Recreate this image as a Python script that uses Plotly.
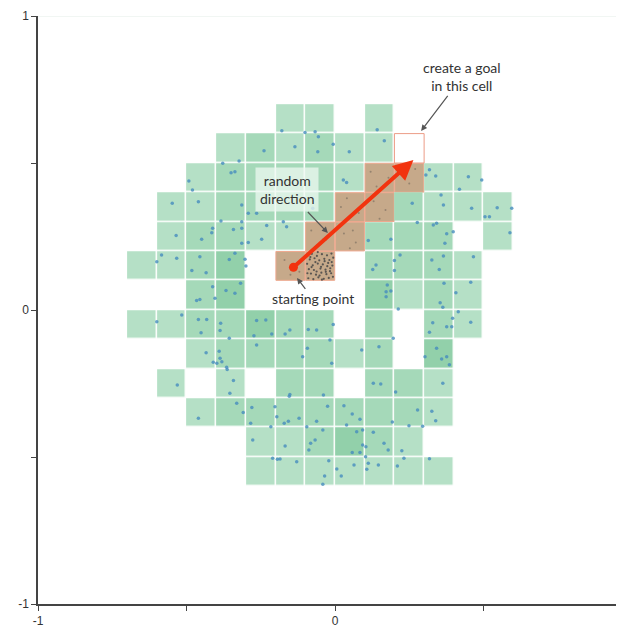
import numpy as np
import plotly.graph_objects as go

# ---------------- data ----------------
CELL = 0.1
col_left0 = -0.7   # left edge of column 0
row_top0 = 0.7     # top edge of row 0

# archive cell shade levels (0 = no cell, 1 light, 2 mid, 3 dark); rows top->bottom, cols left->right
shade_rows = [
    [0,0,0,0,0,1,1,0,1,0,0,0,0],
    [0,0,0,1,2,1,2,1,1,0,0,0,0],
    [0,0,1,2,2,2,2,1,0,0,1,1,0],
    [0,1,1,2,2,2,2,0,0,2,1,1,1],
    [0,1,2,2,1,1,0,0,2,2,2,0,1],
    [1,1,2,3,0,0,0,0,2,2,2,1,0],
    [0,0,2,3,0,0,0,0,3,1,2,1,0],
    [1,1,2,2,3,2,2,0,2,0,2,1,0],
    [0,0,1,2,2,2,2,1,2,0,3,0,0],
    [0,1,0,1,0,2,2,0,2,2,1,0,0],
    [0,0,1,2,2,2,2,2,2,2,1,0,0],
    [0,0,0,0,1,1,2,3,2,1,0,0,0],
    [0,0,0,0,1,1,1,1,1,1,1,0,0],
]

# cells crossed by the random direction (left edge x, bottom edge y)
path_cell_x = [-0.2, -0.1, -0.1, 0.0, 0.0, 0.1, 0.1, 0.2]
path_cell_y = [0.1, 0.1, 0.2, 0.2, 0.3, 0.3, 0.4, 0.4]
goal_cell_x = 0.2
goal_cell_y = 0.5

# archived states (blue dots)
pts_x = [-0.179,-0.101,-0.135,-0.239,-0.378,-0.323,-0.350,-0.337,-0.492,-0.480,-0.548,-0.460,-0.314,-0.292,-0.264,
         -0.384,-0.314,-0.230,-0.174,-0.163,-0.075,-0.412,-0.342,-0.314,-0.067,-0.056,0.142,-0.006,-0.058,0.048,
         0.166,0.028,0.039,0.318,0.306,0.339,0.449,0.419,0.494,0.357,0.365,0.260,0.460,0.546,0.505,0.520,0.595,
         0.277,0.331,0.342,-0.535,-0.449,-0.415,-0.314,-0.292,-0.247,-0.584,-0.600,-0.533,-0.455,-0.482,-0.434,
         -0.337,-0.356,-0.303,-0.300,-0.412,-0.367,-0.337,-0.318,-0.466,-0.455,-0.404,-0.600,-0.516,-0.460,-0.432,
         -0.451,-0.385,-0.387,-0.356,-0.264,-0.233,-0.273,-0.213,-0.168,-0.152,-0.090,-0.062,-0.264,-0.434,-0.390,
         -0.387,-0.398,-0.410,-0.381,-0.365,-0.109,-0.093,0.188,0.112,0.376,0.398,0.370,0.589,0.138,0.127,0.219,
         0.200,0.200,0.326,0.365,0.351,0.466,0.367,0.457,0.176,0.172,0.188,0.172,0.213,0.407,0.354,0.363,0.415,
         -0.017,-0.006,0.196,0.329,0.318,0.376,0.393,0.396,0.457,0.090,0.148,0.303,0.342,0.359,0.376,-0.011,
         -0.363,-0.531,-0.342,-0.354,-0.152,-0.154,-0.039,-0.460,-0.331,-0.309,-0.280,-0.284,-0.216,-0.202,-0.196,
         -0.171,-0.157,-0.121,-0.095,-0.062,-0.025,-0.041,0.030,0.039,-0.277,-0.168,-0.082,-0.067,-0.088,-0.210,
         -0.194,-0.185,-0.129,-0.021,0.006,-0.035,0.021,-0.041,0.385,0.129,0.154,0.204,0.363,0.058,0.084,0.193,
         0.278,0.249,0.295,0.326,0.339,0.073,0.093,0.129,0.165,0.179,0.093,0.104,0.058,0.084,0.103,0.225,0.232,
         0.318,0.064,0.112,0.107,0.146,0.210]
pts_y = [0.610,0.604,0.555,0.542,0.499,0.507,0.467,0.470,0.439,0.408,0.363,0.368,0.357,0.329,0.329,
         0.303,0.300,0.287,0.300,0.283,0.346,0.278,0.274,0.278,0.606,0.589,0.613,0.564,0.538,0.538,
         0.576,0.442,0.434,0.477,0.459,0.456,0.453,0.411,0.442,0.391,0.357,0.363,0.346,0.348,0.317,0.317,0.346,
         0.298,0.289,0.295,0.253,0.241,0.263,0.227,0.230,0.241,0.187,0.164,0.176,0.181,0.134,0.127,
         0.193,0.172,0.173,0.150,0.079,0.066,0.057,0.091,0.032,0.036,0.040,-0.040,-0.017,-0.032,-0.032,
         -0.077,-0.045,-0.070,-0.096,-0.036,-0.034,-0.088,-0.082,-0.082,-0.068,-0.066,-0.068,-0.119,-0.145,-0.140,
         -0.164,-0.181,-0.178,-0.176,-0.195,-0.159,-0.130,0.241,0.236,0.259,0.266,0.227,0.263,0.153,0.138,0.187,
         0.168,0.134,0.170,0.184,0.138,0.181,0.091,0.094,0.085,0.062,0.065,0.045,0.003,0.059,0.025,0.009,-0.006,
         -0.102,-0.049,-0.096,-0.043,-0.076,-0.057,-0.057,-0.028,-0.042,-0.136,-0.125,-0.159,-0.130,-0.167,-0.159,-0.181,
         -0.202,-0.255,-0.240,-0.283,-0.287,-0.293,-0.289,-0.368,-0.317,-0.349,-0.332,-0.385,-0.397,-0.329,-0.363,
         -0.385,-0.378,-0.368,-0.397,-0.378,-0.327,-0.408,-0.326,-0.391,-0.442,-0.463,-0.453,-0.442,-0.476,-0.504,
         -0.508,-0.507,-0.516,-0.513,-0.541,-0.565,-0.565,-0.593,-0.186,-0.249,-0.252,-0.279,-0.249,-0.354,-0.372,-0.381,
         -0.340,-0.394,-0.395,-0.344,-0.377,-0.414,-0.408,-0.416,-0.453,-0.476,-0.459,-0.465,-0.485,-0.485,-0.499,-0.479,-0.504,
         -0.506,-0.527,-0.521,-0.542,-0.527,-0.531]

# dense samples inside the starting cell
stip_x = [-0.092,-0.078,-0.061,-0.044,-0.027,-0.012,-0.085,-0.069,-0.053,-0.036,-0.019,-0.006,
          -0.094,-0.075,-0.058,-0.041,-0.023,-0.009,-0.088,-0.071,-0.049,-0.032,-0.016,-0.081,
          -0.064,-0.046,-0.029,-0.013,-0.090,-0.073,-0.056,-0.038,-0.021,-0.007,-0.083,-0.066,
          -0.047,-0.031,-0.017,-0.052,-0.035,-0.079,-0.062,-0.026,-0.011,-0.093,-0.044,-0.058]
stip_y = [0.188,0.191,0.184,0.190,0.186,0.192,0.172,0.176,0.169,0.174,0.170,0.178,
          0.157,0.152,0.158,0.155,0.160,0.151,0.139,0.136,0.141,0.137,0.142,0.124,
          0.120,0.127,0.122,0.125,0.108,0.105,0.111,0.106,0.109,0.113,0.180,0.163,
          0.147,0.130,0.132,0.117,0.166,0.146,0.131,0.149,0.163,0.125,0.103,0.197]

# sparse faint samples in the other crossed cells
faint_x = [-0.17,-0.12,-0.15,-0.08,-0.03,-0.06,0.03,0.07,0.05,0.02,0.08,0.04,0.13,0.17,0.15,0.12,0.18,0.14,0.23,0.27,0.25,-0.04,0.06]
faint_y = [0.17,0.13,0.12,0.27,0.24,0.22,0.26,0.23,0.21,0.35,0.33,0.38,0.37,0.34,0.31,0.47,0.45,0.42,0.46,0.48,0.43,0.24,0.27]

# random direction arrow
start_x, start_y = -0.140, 0.145
end_x, end_y = 0.264, 0.510

x_tickvals = [-1, -0.5, 0, 0.5, 1]
x_ticktext = ['-1', '', '0', '', '1']
y_tickvals = [-1, -0.5, 0, 0.5, 1]
y_ticktext = ['-1', '', '0', '', '1']

# ---------------- figure ----------------
light, mid, dark = '#b5e0c6', '#a5d9b9', '#92d0aa'
ncols = len(shade_rows[0])
nrows = len(shade_rows)
xc = [col_left0 + CELL * (i + 0.5) for i in range(ncols)]
yc = [row_top0 - CELL * (r + 0.5) for r in range(nrows)]
z = [[(v if v > 0 else None) for v in row] for row in shade_rows]

fig = go.Figure()
fig.add_trace(go.Heatmap(
    x=xc, y=yc, z=z, zmin=1, zmax=3,
    colorscale=[[0, light], [0.5, mid], [1, dark]],
    showscale=False, xgap=1.5, ygap=1.5, hoverinfo='skip'))

shapes = []
for cx, cy in zip(path_cell_x, path_cell_y):
    shapes.append(dict(type='rect', xref='x', yref='y', x0=cx + 0.001, x1=cx + CELL - 0.001,
                       y0=cy + 0.001, y1=cy + CELL - 0.001,
                       fillcolor='#c6a98a', line=dict(color='#eea88e', width=1), layer='below'))
shapes.append(dict(type='rect', xref='x', yref='y', x0=goal_cell_x, x1=goal_cell_x + CELL,
                   y0=goal_cell_y, y1=goal_cell_y + CELL,
                   fillcolor='white', line=dict(color='#ec9c86', width=1), layer='below'))
shapes.append(dict(type='line', xref='paper', yref='y', x0=0, x1=1, y0=1, y1=1,
                   line=dict(color='#e3eee8', width=1), layer='below'))

fig.add_trace(go.Scatter(x=faint_x, y=faint_y, mode='markers', hoverinfo='skip',
                         marker=dict(size=2, color='rgba(110,100,90,0.55)')))
fig.add_trace(go.Scatter(x=stip_x, y=stip_y, mode='markers', hoverinfo='skip',
                         marker=dict(size=2.2, color='rgba(70,70,70,0.85)')))
fig.add_trace(go.Scatter(x=pts_x, y=pts_y, mode='markers', hoverinfo='skip',
                         marker=dict(size=3.5, color='rgba(70,140,190,0.8)')))
fig.add_trace(go.Scatter(x=[start_x], y=[start_y], mode='markers', hoverinfo='skip',
                         marker=dict(size=9, color='#f2330f')))

ann_font = dict(family='Lato', size=14, color='#333')
annotations = [
    dict(x=end_x, y=end_y, ax=start_x, ay=start_y, xref='x', yref='y', axref='x', ayref='y',
         text='', showarrow=True, arrowhead=2, arrowsize=1, arrowwidth=4, arrowcolor='#f2330f',
         standoff=0),
    dict(x=0.290, y=0.609, ax=41, ay=-54, text='create a goal<br>in this cell', showarrow=True,
         arrowhead=2, arrowsize=1, arrowwidth=1.2, arrowcolor='#555', font=ann_font),
    dict(x=-0.024, y=0.262, ax=-41, ay=-43, text='random<br>direction', showarrow=True,
         arrowhead=2, arrowsize=1, arrowwidth=1.2, arrowcolor='#555', font=ann_font,
         bgcolor='rgba(238,248,242,0.75)', borderpad=4),
    dict(x=-0.128, y=0.109, ax=16, ay=21, text='starting point', showarrow=True,
         arrowhead=2, arrowsize=1, arrowwidth=1.2, arrowcolor='#555', font=ann_font),
]

axis_common = dict(showgrid=False, zeroline=False, showline=True, linecolor='#444', linewidth=1.5,
                   ticks='outside', ticklen=5, tickcolor='#444', tickwidth=1.2, automargin=False,
                   tickfont=dict(family='Liberation Sans, Arial', size=12, color='#333'))
# the page body adds an 8px offset, so the figure is sized 8px smaller on each axis
fig.update_layout(
    width=616, height=622,
    margin=dict(l=30, r=0, t=8, b=26, autoexpand=False),
    paper_bgcolor='white', plot_bgcolor='white',
    showlegend=False,
    shapes=shapes, annotations=annotations,
    xaxis=dict(range=[-1, 0.973], tickvals=x_tickvals, ticktext=x_ticktext, **axis_common),
    yaxis=dict(range=[-1, 1], tickvals=y_tickvals, ticktext=y_ticktext, **axis_common),
)
fig.write_html('out.html')
